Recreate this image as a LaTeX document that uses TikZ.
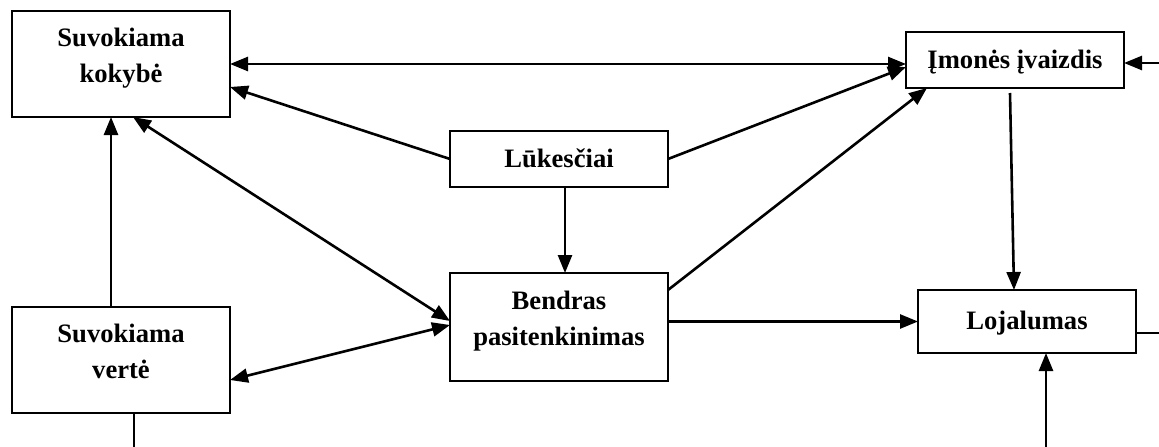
\documentclass[tikz,border=0pt]{standalone}
\usepackage{fontspec}
\setmainfont{Liberation Serif}
\usetikzlibrary{arrows.meta}
\newcommand{\lowpad}{\rule[-17pt]{0pt}{0pt}}
\begin{document}
\begin{tikzpicture}[x=1pt,y=-1pt,
  >={Triangle[length=18pt,width=14pt]},
  box/.style={draw, line width=2.6pt, minimum width=218pt, inner sep=0pt, outer sep=0pt,
    font=\fontsize{26.6}{36}\selectfont\bfseries, align=center},
  onebox/.style={box, text height=18pt, text depth=2pt},
  conn/.style={line width=2.6pt, ->},
  conntwo/.style={line width=2.6pt, <->},
  bare/.style={line width=2.6pt}]
\useasboundingbox (0,0) rectangle (1159,447);

% boxes
\node[box, minimum height=106pt] (K) at (121,64) {Suvokiama\\kokybė\lowpad};
\node[box, minimum height=106pt] (V) at (121,360) {Suvokiama\\vertė\lowpad};
\node[onebox, minimum height=56pt] (L) at (559,159) {Lūkesčiai};
\node[box, minimum height=108pt] (B) at (559,327) {Bendras\\pasitenkinimas\lowpad};
\node[onebox, minimum height=56pt] (I) at (1015,60) {Įmonės įvaizdis};
\node[onebox, minimum height=63pt] (J) at (1027,321.5) {Lojalumas};

% loose ends at the border
\coordinate (vout) at (134,447);
\coordinate (iin) at (1159,63);
\coordinate (jout) at (1159,333);
\coordinate (jin) at (1046,447);

% connectors
\draw[conntwo] (K.east) -- (K.east -| I.west);
\draw[conn] (L.west) -- ([yshift=-23pt]K.east);
\draw[conntwo] ([xshift=12pt]K.south) -- ([yshift=6pt]B.west);
\draw[conntwo] ([yshift=-20pt]V.east) -- ([yshift=2pt]B.west);
\draw[conn] ([xshift=-10pt]V.north) -- ([xshift=-10pt]K.south);
\draw[bare] ([xshift=13pt]V.south) -- (vout);
\draw[conn] ([xshift=6pt]L.south) -- ([xshift=6pt]B.north);
\draw[conn] (L.east) -- ([yshift=-7pt]I.west);
\draw[conn] ([yshift=37pt]B.east) -- ([xshift=21pt]I.south west);
\draw[conn] (B.east |- J.west) -- (J.west);
\draw[conn] ([xshift=-5pt,yshift=-5pt]I.south) -- ([xshift=-13pt]J.north);
\draw[conn] (iin) -- ([yshift=-3pt]I.east);
\draw[bare] ([yshift=-11.5pt]J.east) -- (jout);
\draw[conn] (jin) -- ([xshift=19pt]J.south);
\end{tikzpicture}
\end{document}
